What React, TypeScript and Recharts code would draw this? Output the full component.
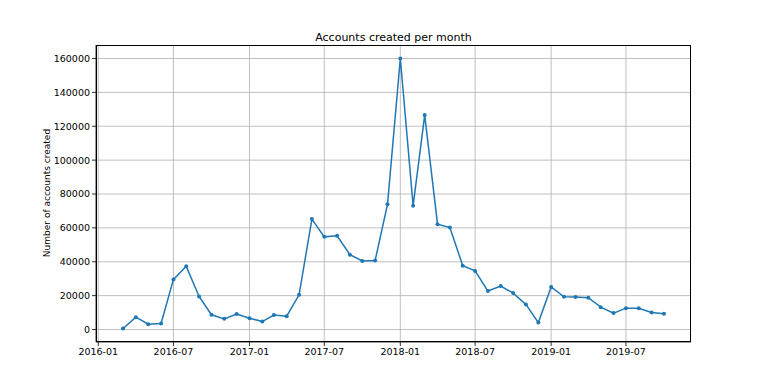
import { LineChart, Line, XAxis, YAxis, CartesianGrid } from 'recharts';

const months = [
  '2016-03', '2016-04', '2016-05', '2016-06', '2016-07', '2016-08', '2016-09', '2016-10', '2016-11', '2016-12',
  '2017-01', '2017-02', '2017-03', '2017-04', '2017-05', '2017-06', '2017-07', '2017-08', '2017-09', '2017-10',
  '2017-11', '2017-12', '2018-01', '2018-02', '2018-03', '2018-04', '2018-05', '2018-06', '2018-07', '2018-08',
  '2018-09', '2018-10', '2018-11', '2018-12', '2019-01', '2019-02', '2019-03', '2019-04', '2019-05', '2019-06',
  '2019-07', '2019-08', '2019-09', '2019-10',
];

const accounts = [
  600, 7300, 3150, 3550, 29600, 37300, 19500, 8700, 6300, 9100,
  6700, 4700, 8500, 7900, 20500, 65200, 54700, 55300, 44200, 40500,
  40700, 73900, 160000, 73100, 126600, 62200, 60200, 37700, 34600, 22700,
  25700, 21500, 14800, 4100, 25100, 19300, 19200, 18800, 13200, 9700,
  12600, 12600, 10100, 9300,
];

const xTickLabels = ['2016-01', '2016-07', '2017-01', '2017-07', '2018-01', '2018-07', '2019-01', '2019-07'];
const yTicks = [0, 20000, 40000, 60000, 80000, 100000, 120000, 140000, 160000];

const toTime = (ym: string) => {
  const [y, m] = ym.split('-').map(Number);
  return Date.UTC(y, m - 1, 1);
};

const data = months.map((m, i) => ({ t: toTime(m), v: accounts[i] }));
const xTicks = xTickLabels.map(toTime);

const DAY = 86400000;
const tMin = data[0].t;
const tMax = data[data.length - 1].t;
const xPad = (tMax - tMin) * 0.05;
const xDomain = [tMin - xPad, tMax + xPad];
const yDomain = [-7370, 167970];

const fmt = (t: number) => {
  const d = new Date(t + DAY);
  return `${d.getUTCFullYear()}-${String(d.getUTCMonth() + 1).padStart(2, '0')}`;
};

const font = 'DejaVu Sans, sans-serif';
const tickStyle = { fontSize: 9.5, fill: '#000', fontFamily: font };

export default function App() {
  return (
    <div style={{ position: 'absolute', left: 0, top: 0, width: 768, height: 384, background: '#fff', fontFamily: font }}>
      <div style={{ position: 'absolute', left: 96, width: 595, top: 31, textAlign: 'center', fontSize: 11, color: '#000' }}>
        Accounts created per month
      </div>
      <div
        style={{
          position: 'absolute', left: 47, top: 193, fontSize: 9, color: '#000', whiteSpace: 'nowrap',
          transform: 'translate(-50%, -50%) rotate(-90deg)',
        }}
      >
        Number of accounts created
      </div>
      <LineChart width={768} height={384} data={data} margin={{ top: 45, right: 77, bottom: 0, left: 0 }}>
        <CartesianGrid stroke="#b0b0b0" strokeWidth={0.8} horizontalValues={yTicks} verticalValues={xTicks} />
        <XAxis
          dataKey="t"
          type="number"
          domain={xDomain}
          ticks={xTicks}
          tickFormatter={fmt}
          allowDataOverflow
          height={42}
          tickSize={4}
          tick={tickStyle}
          stroke="#000"
          axisLine={{ stroke: '#000', strokeWidth: 0.8 }}
          tickLine={{ stroke: '#000', strokeWidth: 0.8 }}
          interval={0}
        />
        <YAxis
          type="number"
          domain={yDomain}
          ticks={yTicks}
          allowDataOverflow
          width={96}
          tickSize={4}
          tick={tickStyle}
          stroke="#000"
          axisLine={{ stroke: '#000', strokeWidth: 0.8 }}
          tickLine={{ stroke: '#000', strokeWidth: 0.8 }}
          interval={0}
        />
        <Line
          type="linear"
          dataKey="v"
          stroke="#1f77b4"
          strokeWidth={1.5}
          dot={{ r: 2, fill: '#1f77b4', stroke: '#1f77b4', strokeWidth: 0 }}
          isAnimationActive={false}
        />
      </LineChart>
      <div
        style={{
          position: 'absolute', left: 96, top: 45, width: 595, height: 297, boxSizing: 'border-box',
          border: '1px solid #000', pointerEvents: 'none',
        }}
      />
    </div>
  );
}
